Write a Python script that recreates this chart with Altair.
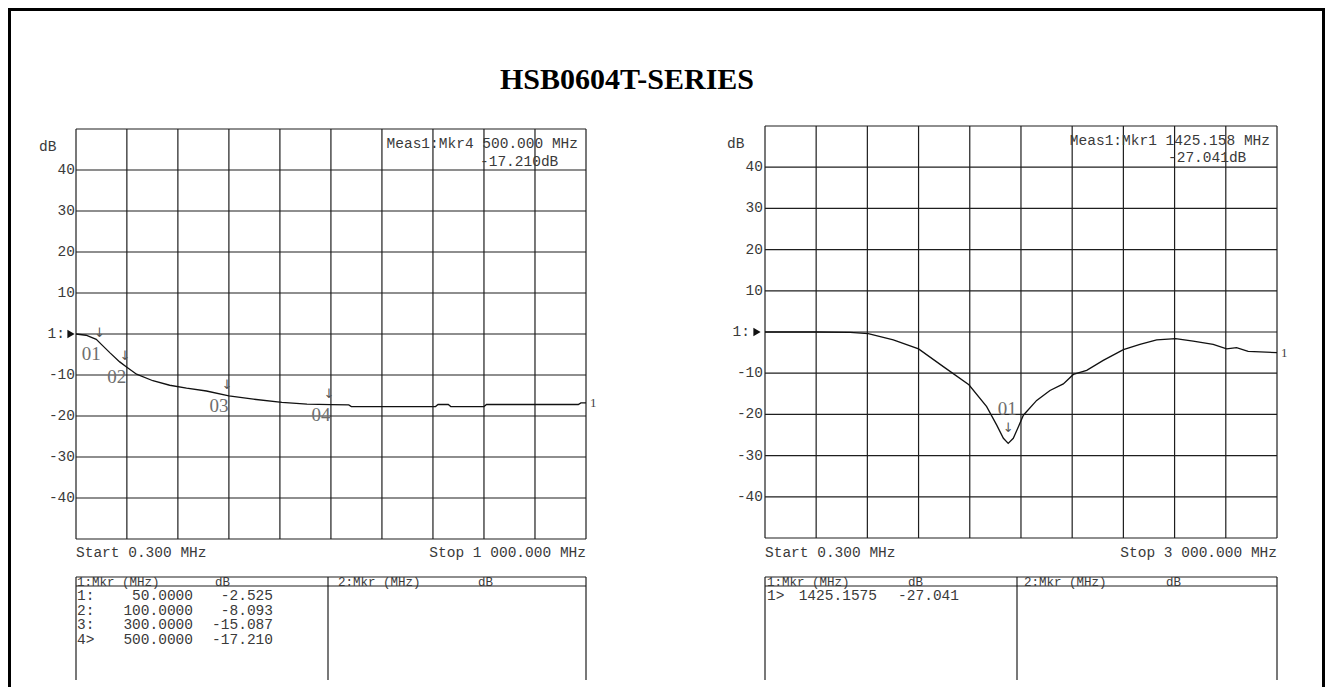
import altair as alt
import pandas as pd

# ---------------- data ----------------
title_text = "HSB0604T-SERIES"

db_span = [-50, 50]
y_grid = [50, 40, 30, 20, 10, 0, -10, -20, -30, -40, -50]
y_tick_vals = [40, 30, 20, 10, -10, -20, -30, -40]
y_tick_lbls = ["40", "30", "20", "10", "-10", "-20", "-30", "-40"]
ref_level_db = [0]
ref_level_lbl = ["1:"]
unit_lbl = "dB"
trace_lbl = "1"

# left trace (0.3 MHz .. 1000 MHz)
left_span = [0.3, 1000]
left_x_grid = [0.3, 100, 200, 300, 400, 500, 600, 700, 800, 900, 1000]
left_freq = [0.3, 20, 40, 50, 67, 86, 100, 119, 151, 184, 217, 256, 300, 348, 404,
             453, 500, 535, 540, 705, 710, 730, 735, 800, 805, 985, 990, 1000]
left_db = [0.0, -0.3, -1.3, -2.525, -4.6, -6.8, -8.093, -9.8, -11.4, -12.5, -13.2, -13.9,
           -15.087, -15.9, -16.7, -17.1, -17.21, -17.3, -17.7, -17.7, -17.2, -17.2, -17.7,
           -17.7, -17.2, -17.2, -16.8, -16.8]
left_mkr_freq = [50, 100, 300, 500]
left_mkr_db = [-2.525, -8.093, -15.087, -17.210]
left_mkr_lbl = ["01", "02", "03", "04"]
left_start = "Start 0.300 MHz"
left_stop = "Stop 1 000.000 MHz"
left_readout = ["Meas1:Mkr4  500.000 MHz", "-17.210dB"]
left_tbl_head = ["1:Mkr (MHz)", "dB", "2:Mkr (MHz)", "dB"]
left_tbl_id = ["1:", "2:", "3:", "4>"]
left_tbl_freq = ["50.0000", "100.0000", "300.0000", "500.0000"]
left_tbl_db = ["-2.525", "-8.093", "-15.087", "-17.210"]

# right trace (0.3 MHz .. 3000 MHz)
right_span = [0.3, 3000]
right_x_grid = [0.3, 300, 600, 900, 1200, 1500, 1800, 2100, 2400, 2700, 3000]
right_freq = [0.3, 300, 500, 605, 752, 900, 1045, 1195, 1299, 1358, 1397, 1425.1575,
              1455, 1485, 1514, 1592, 1670, 1748, 1807, 1885, 1982, 2100, 2197, 2295,
              2406, 2509, 2626, 2705, 2763, 2831, 3000]
right_db = [0.0, 0.0, -0.1, -0.4, -1.9, -4.1, -8.4, -12.8, -18.1, -22.6, -25.8, -27.041,
            -25.8, -23.0, -20.2, -16.6, -14.2, -12.6, -10.3, -9.3, -6.9, -4.3, -3.0, -1.9,
            -1.6, -2.2, -3.0, -4.1, -3.8, -4.7, -5.0]
right_mkr_freq = [1425.1575]
right_mkr_db = [-27.041]
right_mkr_lbl = ["01"]
right_start = "Start 0.300 MHz"
right_stop = "Stop 3 000.000 MHz"
right_readout = ["Meas1:Mkr1 1425.158 MHz", "-27.041dB"]
right_tbl_head = ["1:Mkr (MHz)", "dB", "2:Mkr (MHz)", "dB"]
right_tbl_id = ["1>"]
right_tbl_freq = ["1425.1575"]
right_tbl_db = ["-27.041"]

# ---------------- styling helpers ----------------
W, H = 1317, 679
MONO = "Liberation Mono"
SERIF = "Liberation Serif"
INK = "#1e1e1e"
TXT = "#3a3a3a"
MK = "#6e6e6e"
FS = 14.5


def sc(domain, rng):
    return alt.Scale(domain=domain, range=rng, nice=False, zero=False)


def one(s):
    return pd.DataFrame({"t": [s]})


def label(s, x, y, align="left", size=FS, font=MONO, color=TXT, weight="normal"):
    return alt.Chart(one(s)).mark_text(
        align=align, baseline="middle", font=font, fontSize=size, color=color,
        fontWeight=weight,
    ).encode(x=alt.value(x), y=alt.value(y), text="t:N")


def hline(x1, x2, y, w=1.2):
    return alt.Chart(one("")).mark_rule(color=INK, strokeWidth=w).encode(
        x=alt.value(x1), x2=alt.value(x2), y=alt.value(y))


def vline(x, y1, y2, w=1.2):
    return alt.Chart(one("")).mark_rule(color=INK, strokeWidth=w).encode(
        x=alt.value(x), y=alt.value(y1), y2=alt.value(y2))


def panel(p):
    xsc = sc(p["span"], p["xr"])
    ysc = sc(db_span, p["yr"])
    L = []
    # grid
    vg = pd.DataFrame({"f": p["xgrid"], "lo": db_span[0], "hi": db_span[1]})
    L.append(alt.Chart(vg).mark_rule(color=INK, strokeWidth=1.2).encode(
        x=alt.X("f:Q", scale=xsc, axis=None),
        y=alt.Y("lo:Q", scale=ysc, axis=None), y2="hi:Q"))
    hg = pd.DataFrame({"db": y_grid, "a": p["span"][0], "b": p["span"][1]})
    L.append(alt.Chart(hg).mark_rule(color=INK, strokeWidth=1.2).encode(
        x=alt.X("a:Q", scale=xsc, axis=None), x2="b:Q",
        y=alt.Y("db:Q", scale=ysc, axis=None)))
    # trace
    tr = pd.DataFrame({"f": p["freq"], "db": p["db"]})
    L.append(alt.Chart(tr).mark_line(color="#111111", strokeWidth=1.3).encode(
        x=alt.X("f:Q", scale=xsc, axis=None),
        y=alt.Y("db:Q", scale=ysc, axis=None)))
    # trace end label
    te = pd.DataFrame({"f": [p["freq"][-1]], "db": [p["db"][-1]], "t": [trace_lbl]})
    L.append(alt.Chart(te).mark_text(align="left", baseline="middle", dx=4, font=SERIF,
                                     fontSize=13, color="#444444").encode(
        x=alt.X("f:Q", scale=xsc, axis=None),
        y=alt.Y("db:Q", scale=ysc, axis=None), text="t:N"))
    # markers
    mk = pd.DataFrame({"f": p["mf"], "db": p["mdb"], "t": p["ml"]})
    L.append(alt.Chart(mk).mark_text(align="center", baseline="middle", font=SERIF,
                                     fontSize=19, color=MK, dx=p["ldx"], dy=p["ldy"]).encode(
        x=alt.X("f:Q", scale=xsc, axis=None),
        y=alt.Y("db:Q", scale=ysc, axis=None), text="t:N"))
    L.append(alt.Chart(mk).mark_text(text="↓", align="center", baseline="middle",
                                     font="DejaVu Sans", fontSize=13, color="#555555",
                                     dx=p["adx"], dy=p["ady"]).encode(
        x=alt.X("f:Q", scale=xsc, axis=None),
        y=alt.Y("db:Q", scale=ysc, axis=None)))
    # y tick labels
    tk = pd.DataFrame({"db": y_tick_vals, "t": y_tick_lbls})
    L.append(alt.Chart(tk).mark_text(align="right", baseline="middle", font=MONO,
                                     fontSize=FS, color=TXT).encode(
        x=alt.value(p["tick_x"]), y=alt.Y("db:Q", scale=ysc, axis=None), text="t:N"))
    rl = pd.DataFrame({"db": ref_level_db, "t": ref_level_lbl})
    L.append(alt.Chart(rl).mark_text(align="right", baseline="middle", font=MONO,
                                     fontSize=FS, color=TXT).encode(
        x=alt.value(p["ref_x"]), y=alt.Y("db:Q", scale=ysc, axis=None), text="t:N"))
    L.append(alt.Chart(rl).mark_point(shape="triangle-right", filled=True, size=70,
                                      color="#111111", opacity=1).encode(
        x=alt.value(p["tri_x"]), y=alt.Y("db:Q", scale=ysc, axis=None)))
    # unit, readouts, start/stop
    L.append(label(unit_lbl, p["unit"][0], p["unit"][1]))
    L.append(label(p["readout"][0], p["ro1"][0], p["ro1"][1], align="right"))
    L.append(label(p["readout"][1], p["ro2"][0], p["ro2"][1]))
    L.append(label(p["start"], p["xr"][0], 545))
    L.append(label(p["stop"], p["xr"][1], 545, align="right"))
    # marker table frame
    x0, x1, xd = p["xr"][0], p["xr"][1], p["div"]
    L += [hline(x0, x1, 569), hline(x0, x1, 578), vline(x0, 569, 672),
          vline(xd, 569, 672), vline(x1, 569, 672)]
    hx = p["head_x"]
    for s, x in zip(p["head"], hx):
        L.append(label(s, x, 573.5, size=12.5))
    rows = pd.DataFrame({"r": list(range(len(p["tid"]))), "id": p["tid"],
                         "fq": p["tfq"], "db": p["tdb"]})
    rsc = sc([0, 3], [588, 632])
    for col, x, al in [("id", p["col"][0], "left"), ("fq", p["col"][1], "right"),
                       ("db", p["col"][2], "right")]:
        L.append(alt.Chart(rows).mark_text(align=al, baseline="middle", font=MONO,
                                           fontSize=FS, color=TXT).encode(
            x=alt.value(x), y=alt.Y("r:Q", scale=rsc, axis=None), text=f"{col}:N"))
    return L


left = dict(span=left_span, xr=[68, 578], yr=[531, 121], xgrid=left_x_grid,
            freq=left_freq, db=left_db, mf=left_mkr_freq, mdb=left_mkr_db, ml=left_mkr_lbl,
            ldx=-10, ldy=10, adx=-2, ady=-11,
            tick_x=67, ref_x=57, tri_x=63, unit=(31, 139),
            readout=left_readout, ro1=(570, 136), ro2=(472, 154),
            start=left_start, stop=left_stop, div=320,
            head=left_tbl_head, head_x=[69, 207, 330, 470],
            tid=left_tbl_id, tfq=left_tbl_freq, tdb=left_tbl_db, col=[69, 185, 265])

right = dict(span=right_span, xr=[757, 1269], yr=[530, 118], xgrid=right_x_grid,
             freq=right_freq, db=right_db, mf=right_mkr_freq, mdb=right_mkr_db,
             ml=right_mkr_lbl, ldx=-1, ldy=-34, adx=0, ady=-15,
             tick_x=755, ref_x=742, tri_x=749, unit=(719, 136),
             readout=right_readout, ro1=(1262, 133), ro2=(1160, 150),
             start=right_start, stop=right_stop, div=1009,
             head=right_tbl_head, head_x=[759, 900, 1016, 1158],
             tid=right_tbl_id, tfq=right_tbl_freq, tdb=right_tbl_db, col=[759, 869, 951])

layers = []
layers.append(alt.Chart(one("")).mark_rect(fillOpacity=0, stroke="#000000",
                                           strokeWidth=3).encode(
    x=alt.value(1.5), x2=alt.value(1315.5), y=alt.value(1.5), y2=alt.value(720)))
layers.append(label(title_text, 619, 72, align="center", size=30, font=SERIF,
                    color="#000000", weight="bold"))
layers += panel(left)
layers += panel(right)

chart = alt.layer(*layers).resolve_scale(x="independent", y="independent").properties(
    width=W, height=H, autosize=alt.AutoSizeParams(type="none"), padding=0,
).configure_view(strokeWidth=0).configure(background="white")

chart.save("out.html", embed_options={"renderer": "svg", "actions": False})
